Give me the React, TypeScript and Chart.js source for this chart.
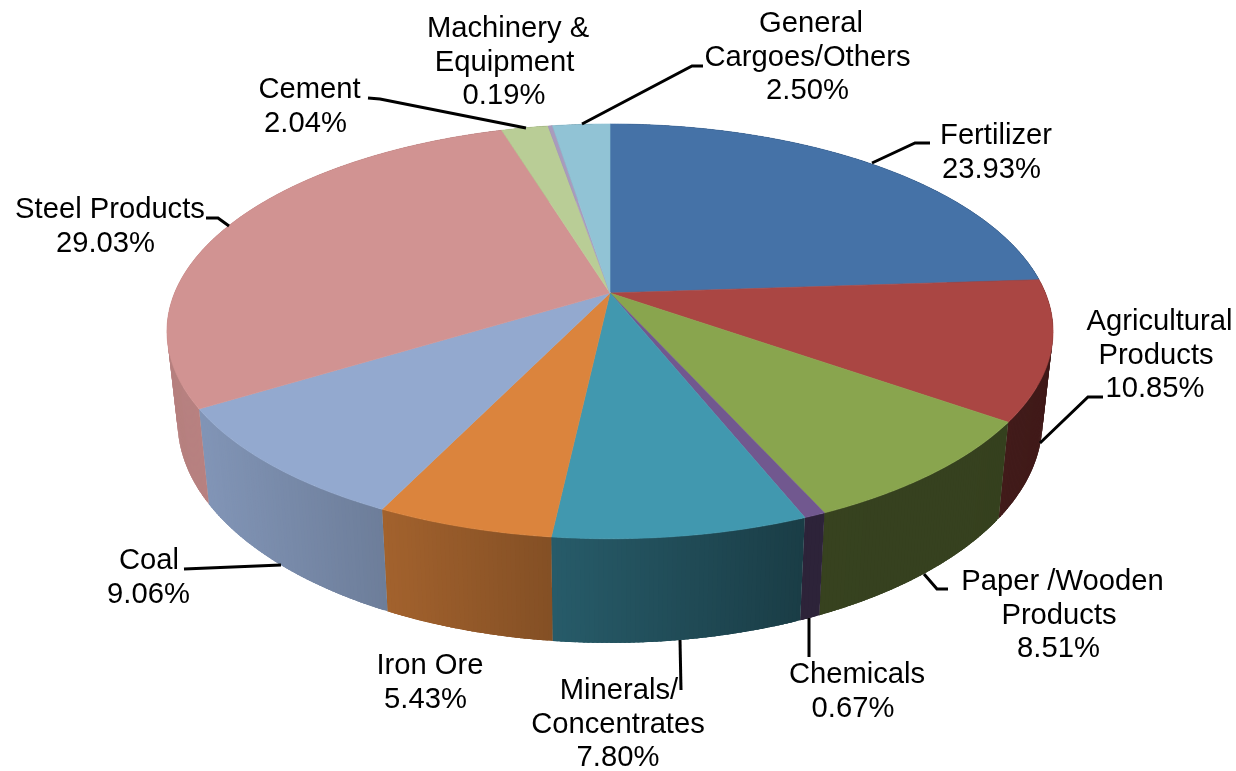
import React, { useEffect, useRef } from "react";
import { Chart, registerables } from "chart.js";

Chart.register(...registerables);

const categories = ["Fertilizer", "Agricultural Products", "Paper /Wooden Products", "Chemicals", "Minerals/ Concentrates", "Iron Ore", "Coal", "Steel Products", "Cement", "Machinery & Equipment", "General Cargoes/Others"];
const shares = [23.93, 10.85, 8.51, 0.67, 7.8, 5.43, 9.06, 29.03, 2.04, 0.19, 2.5];
const colors = ["#4572A7", "#AA4643", "#89A54E", "#71588F", "#4198AF", "#DB843D", "#93A9CF", "#D19392", "#B9CD96", "#A99BBD", "#91C3D5"];

// Label layout: text lines, centre x of each line, first-line middle y
const labelLines = [
  ["Fertilizer", "23.93%"],
  ["Agricultural", "Products", "10.85%"],
  ["Paper /Wooden", "Products", "8.51%"],
  ["Chemicals", "0.67%"],
  ["Minerals/", "Concentrates", "7.80%"],
  ["Iron Ore", "5.43%"],
  ["Coal", "9.06%"],
  ["Steel Products", "29.03%"],
  ["Cement", "2.04%"],
  ["Machinery &", "Equipment", "0.19%"],
  ["General", "Cargoes/Others", "2.50%"],
];
const labelX = [
  [996, 991.5],
  [1159.5, 1156, 1155],
  [1062.5, 1059, 1058.5],
  [857, 853],
  [619, 618, 618],
  [430, 425.5],
  [149, 148.5],
  [110, 105.5],
  [309.5, 305.5],
  [508, 504.5, 504],
  [811, 807.5, 807.5],
];
const labelY = [134, 320, 580, 673, 689, 664, 559, 208, 88, 27, 22];
const leaders = [
  [[872, 163], [915, 143], [930, 143]],
  [[1040, 443], [1088, 397], [1103, 397]],
  [[924, 574], [937, 589], [948, 589]],
  [[809, 618], [809, 657]],
  [[680, 640], [681, 690]],
  [],
  [[281, 565], [184, 569]],
  [[229, 226], [218, 218], [206, 218]],
  [[526, 128], [380, 99], [368, 98]],
  [],
  [[582, 124], [692, 66], [703, 66]],
];

// Perspective projection of the pie disc
const CX = 610;
const P = 0.185;
const TOP = { y0: 293, a: 435.4, b: 200.3 };
const BOTTOM = { y0: 380.3, a: 425, b: 214 };
const SHADE_X = [170, 200, 385, 553, 805, 1000, 1060];
const SHADE_F = [0.87, 0.88, 0.74, 0.6, 0.4, 0.39, 0.37];

function project(face: { y0: number; a: number; b: number }, u: number, v: number) {
  const w = 1 - P * v;
  return [CX + (face.a * u) / w, face.y0 + (face.b * v) / w];
}

function shade(hex: string, x: number) {
  let f = SHADE_F[SHADE_F.length - 1];
  for (let i = 0; i < SHADE_X.length - 1; i++) {
    if (x <= SHADE_X[i]) { f = SHADE_F[i]; break; }
    if (x < SHADE_X[i + 1]) {
      f = SHADE_F[i] + ((SHADE_F[i + 1] - SHADE_F[i]) * (x - SHADE_X[i])) / (SHADE_X[i + 1] - SHADE_X[i]);
      break;
    }
  }
  const n = parseInt(hex.slice(1), 16);
  return `rgb(${Math.round(((n >> 16) & 255) * f)},${Math.round(((n >> 8) & 255) * f)},${Math.round((n & 255) * f)})`;
}

const pie3d = {
  id: "pie3d",
  beforeDatasetDraw(chart: any, args: any) {
    const ctx = chart.ctx as CanvasRenderingContext2D;
    const arcs = args.meta.data as any[];
    const step = Math.PI / 360;
    // side wall: overlapping strips, drawn in slice order
    const strips: { v: number; fill: string; pts: number[][] }[] = [];
    arcs.forEach((arc, i) => {
      const { startAngle, endAngle } = arc.getProps(["startAngle", "endAngle"], true);
      for (let a = startAngle; a < endAngle; a += step) {
        const b = Math.min(a + step * 2.5, endAngle);
        const m = Math.min(a + step / 2, endAngle);
        const u0 = Math.cos(a), v0 = Math.sin(a), u1 = Math.cos(b), v1 = Math.sin(b);
        const t0 = project(TOP, u0, v0), t1 = project(TOP, u1, v1);
        const b0 = project(BOTTOM, u0, v0), b1 = project(BOTTOM, u1, v1);
        const tm = project(TOP, Math.cos(m), Math.sin(m));
        strips.push({ v: i * 10000 + a, fill: shade(colors[i], tm[0]), pts: [t0, t1, b1, b0] });
      }
    });
    strips.sort((p, q) => p.v - q.v);
    ctx.save();
    for (const s of strips) {
      ctx.beginPath();
      s.pts.forEach((p, k) => (k ? ctx.lineTo(p[0], p[1]) : ctx.moveTo(p[0], p[1])));
      ctx.closePath();
      ctx.fillStyle = s.fill;
      ctx.fill();
    }
    // top face wedges
    arcs.forEach((arc, i) => {
      const { startAngle, endAngle } = arc.getProps(["startAngle", "endAngle"], true);
      const c = project(TOP, 0, 0);
      ctx.beginPath();
      ctx.moveTo(c[0], c[1]);
      for (let a = startAngle; a < endAngle; a += step) {
        const p = project(TOP, Math.cos(a), Math.sin(a));
        ctx.lineTo(p[0], p[1]);
      }
      const e = project(TOP, Math.cos(endAngle), Math.sin(endAngle));
      ctx.lineTo(e[0], e[1]);
      ctx.closePath();
      ctx.fillStyle = colors[i];
      ctx.strokeStyle = colors[i];
      ctx.lineWidth = 0.6;
      ctx.fill();
      ctx.stroke();
    });
    ctx.restore();
    return false;
  },
  afterDatasetsDraw(chart: any) {
    const ctx = chart.ctx as CanvasRenderingContext2D;
    ctx.save();
    ctx.strokeStyle = "#000";
    ctx.lineWidth = 3;
    ctx.lineJoin = "miter";
    leaders.forEach((line) => {
      if (!line.length) return;
      ctx.beginPath();
      line.forEach((p, k) => (k ? ctx.lineTo(p[0], p[1]) : ctx.moveTo(p[0], p[1])));
      ctx.stroke();
    });
    ctx.fillStyle = "#000";
    ctx.font = '29.2px "Liberation Sans", Arial, sans-serif';
    ctx.textAlign = "center";
    ctx.textBaseline = "alphabetic";
    labelLines.forEach((lines, i) => {
      lines.forEach((t, k) => ctx.fillText(t, labelX[i][k], labelY[i] + 10 + k * 33.7));
    });
    ctx.restore();
  },
};

export default function App() {
  const ref = useRef<HTMLCanvasElement>(null);
  useEffect(() => {
    const chart = new Chart(ref.current!, {
      type: "pie",
      data: {
        labels: categories,
        datasets: [{ data: shares, backgroundColor: colors, borderWidth: 0 }],
      },
      options: {
        animation: false,
        responsive: false,
        plugins: { legend: { display: false }, tooltip: { enabled: false } },
      },
      plugins: [pie3d],
    } as any);
    return () => chart.destroy();
  }, []);
  return (
    <canvas
      ref={ref}
      width={1236}
      height={771}
      style={{ position: "fixed", left: 0, top: 0, width: 1236, height: 771, display: "block" }}
    />
  );
}
